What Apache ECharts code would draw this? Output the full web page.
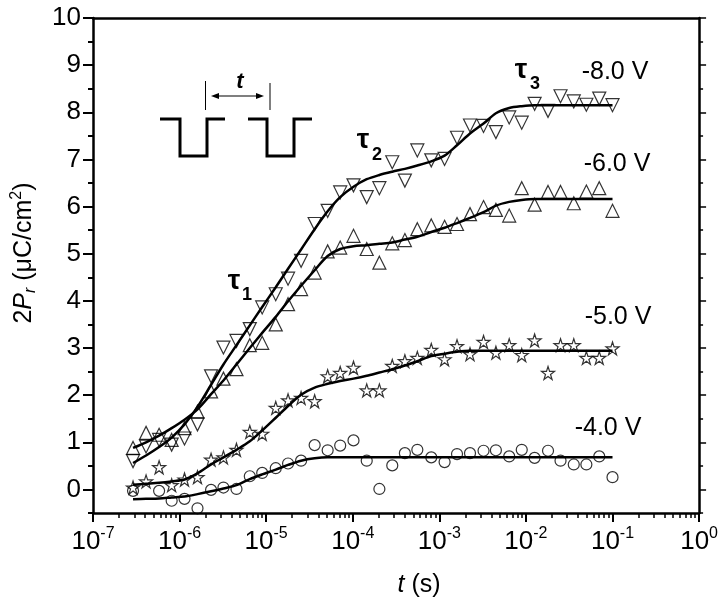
<!DOCTYPE html>
<html>
<head>
<meta charset="utf-8">
<script src="https://cdn.jsdelivr.net/npm/echarts@6/dist/echarts.min.js"></script>
<style>
  html, body { margin: 0; padding: 0; background: #fff; }
  #chart { width: 721px; height: 604px; }
</style>
</head>
<body>
<div id="chart"></div>
<script>
// pulse delay t (s), shared by all four voltages
const tValues = [
  2.9e-7, 4.1e-7, 5.8e-7, 8.1e-7, 1.14e-6, 1.61e-6, 2.31e-6, 3.21e-6, 4.54e-6, 6.47e-6,
  9.0e-6, 1.29e-5, 1.79e-5, 2.53e-5, 3.63e-5, 5.13e-5, 7.16e-5, 1.02e-4, 1.45e-4, 2.03e-4,
  2.86e-4, 4.0e-4, 5.57e-4, 8.07e-4, 1.15e-3, 1.6e-3, 2.26e-3, 3.24e-3, 4.5e-3, 6.41e-3,
  8.95e-3, 0.0126, 0.018, 0.0251, 0.0357, 0.0499, 0.0703, 0.1
];

// measured 2Pr (uC/cm2)
const pr4V = [-0.03, null, -0.03, -0.24, -0.20, -0.40, -0.01, 0.04, 0.01, 0.28, 0.35, 0.45, 0.55, 0.61, 0.94, 0.83, 0.93, 1.04, 0.61, 0.01,
  0.51, 0.77, 0.84, 0.68, 0.58, 0.75, 0.77, 0.82, 0.83, 0.70, 0.84, 0.67, 0.82, 0.61, 0.53, 0.53, 0.70, 0.26];
const pr5V = [0.04, 0.17, 0.47, 0.09, 0.21, 0.26, 0.63, 0.68, 0.84, 1.22, 1.18, 1.73, 1.89, 1.94, 1.87, 2.40, 2.47, 2.58, 2.10, 2.10,
  2.62, 2.72, 2.79, 2.96, 2.76, 3.04, 2.87, 3.13, 2.90, 3.06, 2.85, 3.16, 2.47, 3.06, 3.06, 2.79, 2.79, 2.99];
const pr6V = [0.88, 1.20, 1.16, 1.05, 1.30, 1.65, 2.08, 2.35, 2.55, 3.06, 3.11, 3.50, 3.93, 4.25, 4.60, 5.05, 5.13, 5.38, 5.10, 4.81,
  5.22, 5.29, 5.52, 5.60, 5.57, 5.63, 5.84, 5.99, 5.93, 5.81, 6.39, 6.04, 6.31, 6.31, 6.07, 6.32, 6.39, 5.91];
const pr8V = [0.60, 0.91, 1.05, 0.95, 1.08, 1.38, 2.40, 3.01, 3.15, 3.40, 3.86, 4.14, 4.47, 4.85, 5.63, 5.91, 6.30, 6.45, 6.20, 6.39,
  6.94, 6.55, 7.19, 6.98, 7.01, 7.46, 7.72, 7.71, 7.58, 7.89, 7.78, 8.18, 8.03, 8.34, 8.23, 8.16, 8.29, 8.15];

// fitted curves
const fit4V = [-0.21, -0.20, -0.19, -0.17, -0.15, -0.10, -0.04, 0.02, 0.09, 0.22, 0.32, 0.42, 0.52, 0.61, 0.66, 0.68, 0.68, 0.68, 0.68, 0.68,
  0.68, 0.68, 0.68, 0.68, 0.68, 0.68, 0.68, 0.68, 0.68, 0.68, 0.68, 0.68, 0.68, 0.68, 0.68, 0.68, 0.68, 0.68];
const fit5V = [0.10, 0.12, 0.14, 0.17, 0.21, 0.34, 0.53, 0.68, 0.84, 1.02, 1.25, 1.52, 1.77, 2.01, 2.16, 2.24, 2.30, 2.35, 2.41, 2.48,
  2.55, 2.63, 2.72, 2.83, 2.88, 2.92, 2.94, 2.94, 2.94, 2.94, 2.94, 2.94, 2.94, 2.94, 2.94, 2.94, 2.94, 2.94];
const fit6V = [0.88, 1.00, 1.14, 1.30, 1.48, 1.70, 2.02, 2.31, 2.65, 3.00, 3.32, 3.66, 3.99, 4.32, 4.65, 4.95, 5.10, 5.16, 5.18, 5.21,
  5.24, 5.30, 5.36, 5.46, 5.55, 5.65, 5.76, 5.88, 6.02, 6.10, 6.14, 6.16, 6.16, 6.16, 6.16, 6.16, 6.16, 6.16];
const fit8V = [0.56, 0.72, 0.90, 1.10, 1.38, 1.75, 2.22, 2.65, 3.06, 3.48, 3.87, 4.29, 4.68, 5.09, 5.52, 5.90, 6.20, 6.42, 6.58, 6.67,
  6.74, 6.80, 6.87, 6.96, 7.08, 7.30, 7.55, 7.76, 7.98, 8.09, 8.13, 8.15, 8.15, 8.15, 8.15, 8.15, 8.15, 8.15];

const yTickLabels = [0, 1, 2, 3, 4, 5, 6, 7, 8, 9, 10];
const decades = [-7, -6, -5, -4, -3, -2, -1];
const minorMultipliers = [2, 3, 4, 5, 6, 7, 8, 9];

const xMinorTicks = [];
decades.forEach(d => minorMultipliers.forEach(m => xMinorTicks.push(d + Math.log10(m))));

const FONT = 'Liberation Sans, Arial, sans-serif';
const STAR = 'path://M50,0 L61.8,35.3 L98.9,35.3 L68.9,57.1 L80.3,92.7 L50,70.7 L19.7,92.7 L31.1,57.1 L1.1,35.3 L38.2,35.3 Z';

const pairs = arr => tValues.map((t, i) => [t, arr[i]]).filter(p => p[1] != null);

const hollow = { color: 'rgba(0,0,0,0)', borderColor: '#000', borderWidth: 1.2 };

const markerSeries = (name, arr, symbol, size, rotate) => ({
  name, type: 'scatter', data: pairs(arr), symbol, symbolSize: size, symbolRotate: rotate || 0,
  itemStyle: hollow, z: 3, silent: true
});
const fitSeries = (name, arr) => ({
  name, type: 'line', data: pairs(arr), showSymbol: false, smooth: 0.3,
  lineStyle: { color: '#000', width: 2.5 }, z: 2, silent: true
});

const chart = echarts.init(document.getElementById('chart'));

const txt = (x, y, text, size, extra) => ({
  type: 'text', x, y,
  style: Object.assign({ text, fontSize: size, fontFamily: FONT, fill: '#000', align: 'center', verticalAlign: 'middle' }, extra || {})
});

const option = {
  animation: false,
  backgroundColor: '#fff',
  grid: { left: 93, top: 18, right: 18, bottom: 91 },
  xAxis: [
    {
      type: 'log', logBase: 10, min: 1e-7, max: 1, position: 'bottom',
      axisLine: { onZero: false, lineStyle: { color: '#000', width: 2.5 } },
      axisTick: { length: 9, lineStyle: { color: '#000', width: 2 } },
      splitLine: { show: false },
      axisLabel: {
        margin: 13, color: '#000',
        formatter: v => '{b|10}{p|' + Math.round(Math.log10(v)) + '}',
        rich: {
          b: { fontSize: 26, fontFamily: FONT, lineHeight: 32, verticalAlign: 'middle' },
          p: { fontSize: 16, fontFamily: FONT, lineHeight: 16, verticalAlign: 'top' }
        }
      },
      name: '{i|t}{n| (s)}', nameLocation: 'middle', nameGap: 60,
      nameTextStyle: {
        padding: [0, 0, 0, 46],
        rich: {
          i: { fontSize: 25, fontFamily: FONT, fontStyle: 'italic' },
          n: { fontSize: 25, fontFamily: FONT }
        }
      }
    },
    {
      type: 'value', min: -7, max: 0, position: 'bottom',
      axisLine: { show: false, onZero: false },
      axisTick: { customValues: xMinorTicks, length: 5, lineStyle: { color: '#000', width: 1.5 } },
      axisLabel: { show: false }, splitLine: { show: false }
    },
    {
      type: 'value', min: 0, max: 1, position: 'top',
      axisLine: { onZero: false, lineStyle: { color: '#000', width: 2.5 } },
      axisTick: { show: false }, axisLabel: { show: false }, splitLine: { show: false }
    }
  ],
  yAxis: [
    {
      type: 'value', min: -0.5, max: 10, interval: 0.5, position: 'left',
      axisLine: { show: true, onZero: false, lineStyle: { color: '#000', width: 2.5 } },
      axisTick: { show: true, length: 5, lineStyle: { color: '#000', width: 2 } },
      splitLine: { show: false },
      axisLabel: { customValues: yTickLabels, margin: 12, fontSize: 26, fontFamily: FONT, color: '#000' },
      name: '{n|2}{i|P}{s|r}{n| (μC/cm}{p|2}{n|)}', nameLocation: 'middle', nameGap: 54, nameRotate: 90,
      nameTextStyle: {
        padding: [0, 0, 0, 25],
        rich: {
          n: { fontSize: 25, fontFamily: FONT, lineHeight: 30, verticalAlign: 'middle' },
          i: { fontSize: 25, fontFamily: FONT, fontStyle: 'italic', lineHeight: 30, verticalAlign: 'middle' },
          s: { fontSize: 16, fontFamily: FONT, fontStyle: 'italic', lineHeight: 16, verticalAlign: 'bottom' },
          p: { fontSize: 16, fontFamily: FONT, lineHeight: 16, verticalAlign: 'top' }
        }
      }
    },
    {
      type: 'value', min: -0.5, max: 10, position: 'left',
      axisLine: { show: false, onZero: false },
      axisTick: { show: true, customValues: yTickLabels, length: 10, lineStyle: { color: '#000', width: 2 } },
      axisLabel: { show: false }, splitLine: { show: false }
    },
    {
      type: 'value', min: -0.5, max: 10, interval: 0.5, position: 'right',
      axisLine: { show: true, onZero: false, lineStyle: { color: '#000', width: 2.5 } },
      axisTick: { show: true, length: 4, lineStyle: { color: '#000', width: 1.5 } },
      axisLabel: { show: false }, splitLine: { show: false }
    },
    {
      type: 'value', min: -0.5, max: 10, position: 'right',
      axisLine: { show: false, onZero: false },
      axisTick: { show: true, customValues: yTickLabels, length: 7, lineStyle: { color: '#000', width: 1.5 } },
      axisLabel: { show: false }, splitLine: { show: false }
    }
  ],
  series: [
    fitSeries('fit -4.0 V', fit4V),
    fitSeries('fit -5.0 V', fit5V),
    fitSeries('fit -6.0 V', fit6V),
    fitSeries('fit -8.0 V', fit8V),
    markerSeries('-4.0 V', pr4V, 'circle', 11),
    markerSeries('-5.0 V', pr5V, STAR, 13),
    markerSeries('-6.0 V', pr6V, 'triangle', 13),
    markerSeries('-8.0 V', pr8V, 'triangle', 13, 180)
  ],
  graphic: [
    txt(615, 72, '-8.0 V', 25),
    txt(617, 164, '-6.0 V', 25),
    txt(618, 317, '-5.0 V', 25),
    txt(608, 428, '-4.0 V', 25),
    txt(234, 281, 'τ', 28, { fontWeight: 'bold' }),
    txt(247, 295, '1', 18, { fontWeight: 'bold' }),
    txt(363, 140, 'τ', 28, { fontWeight: 'bold' }),
    txt(377, 155, '2', 18, { fontWeight: 'bold' }),
    txt(521, 70, 'τ', 28, { fontWeight: 'bold' }),
    txt(535, 84, '3', 18, { fontWeight: 'bold' }),
    txt(240, 82, 't', 22, { fontWeight: 'bold', fontStyle: 'italic' }),
    {
      type: 'polyline', shape: { points: [[160, 119], [180, 119], [180, 156], [207, 156], [207, 119], [225, 119]] },
      style: { stroke: '#000', lineWidth: 3, fill: null }
    },
    {
      type: 'polyline', shape: { points: [[248, 119], [267, 119], [267, 156], [294, 156], [294, 119], [312, 119]] },
      style: { stroke: '#000', lineWidth: 3, fill: null }
    },
    { type: 'line', shape: { x1: 205.5, y1: 81, x2: 205.5, y2: 110 }, style: { stroke: '#000', lineWidth: 1 } },
    { type: 'line', shape: { x1: 270, y1: 83, x2: 270, y2: 110 }, style: { stroke: '#000', lineWidth: 1 } },
    { type: 'line', shape: { x1: 214, y1: 96, x2: 261, y2: 96 }, style: { stroke: '#000', lineWidth: 1.2 } },
    { type: 'polygon', shape: { points: [[211, 96], [219, 93], [219, 99]] }, style: { fill: '#000' } },
    { type: 'polygon', shape: { points: [[264, 96], [256, 93], [256, 99]] }, style: { fill: '#000' } }
  ]
};

chart.setOption(option);
</script>
</body>
</html>
